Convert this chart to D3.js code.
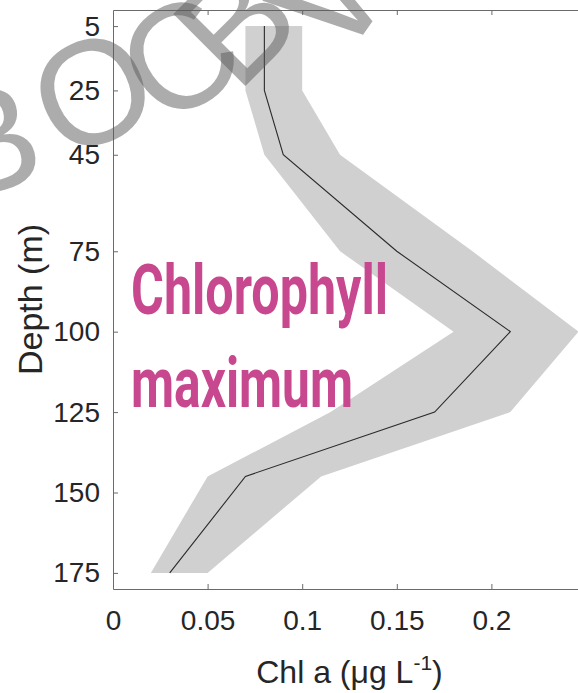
<!DOCTYPE html>
<html>
<head>
<meta charset="utf-8">
<script src="https://cdn.jsdelivr.net/npm/d3@7"></script>
<style>
  html, body { margin: 0; padding: 0; background: #fff; }
  svg { display: block; }
</style>
</head>
<body>
<svg id="chart" width="578" height="693"></svg>
<script>
// ---- data ----
const depths   = [5, 25, 45, 75, 100, 125, 145, 175];
const chlMean  = [0.08, 0.08, 0.09, 0.15, 0.21, 0.17, 0.07, 0.03];
const chlLower = [0.07, 0.07, 0.08, 0.12, 0.18, 0.115, 0.05, 0.02];
const chlUpper = [0.10, 0.10, 0.12, 0.19, 0.246, 0.21, 0.11, 0.05];
const yTicks = [5, 25, 45, 75, 100, 125, 150, 175];
const yTickLabels = ["5", "25", "45", "75", "100", "125", "150", "175"];
const xTicks = [0, 0.05, 0.1, 0.15, 0.2];
const xTickLabels = ["0", "0.05", "0.1", "0.15", "0.2"];
const xTopTicks = [0.05, 0.1, 0.15, 0.2];
const watermarkChars = ["B", "O", "C", "B", "W"];

const rows = depths.map((d, i) => ({ depth: d, mean: chlMean[i], lo: chlLower[i], hi: chlUpper[i] }));

const svg = d3.select("#chart");
const L = 113, R = 586, T = 10, B = 589;
const x = d3.scaleLinear().domain([0, 0.25]).range([L, R]);
const y = d3.scaleLinear().domain([0, 180]).range([T, B]);

const axisColor = "#6a6a6a";
const labelFont = "'Liberation Sans', Arial, Helvetica, sans-serif";

// band
svg.append("path")
  .datum(rows)
  .attr("fill", "#d0d0d0")
  .attr("d", d3.area().y(d => y(d.depth)).x0(d => x(d.lo)).x1(d => x(d.hi)));

// mean line
svg.append("path")
  .datum(rows)
  .attr("fill", "none")
  .attr("stroke", "#2a2a2a")
  .attr("stroke-width", 1.1)
  .attr("d", d3.line().y(d => y(d.depth)).x(d => x(d.mean)));

// annotation
const ann = svg.append("g")
  .attr("fill", "#c8488f")
  .attr("font-family", "Roboto, 'Open Sans', sans-serif")
  .attr("font-weight", 700)
  .attr("font-size", 70);
ann.append("text").attr("x", 131).attr("y", 314)
  .attr("textLength", 257).attr("lengthAdjust", "spacingAndGlyphs").text("Chlorophyll");
ann.append("text").attr("x", 131).attr("y", 407)
  .attr("textLength", 222).attr("lengthAdjust", "spacingAndGlyphs").text("maximum");

// axes
function styleAxis(g) {
  g.selectAll(".domain").attr("stroke", axisColor);
  g.selectAll(".tick line").attr("stroke", axisColor);
  g.selectAll(".tick text").attr("fill", "#262626").attr("font-family", labelFont).attr("font-size", 28);
}

const gLeft = svg.append("g").attr("transform", `translate(${L},0)`)
  .call(d3.axisLeft(y).tickValues(yTicks).tickFormat((d, i) => yTickLabels[i])
    .tickSizeInner(-5).tickSizeOuter(0).tickPadding(13));
styleAxis(gLeft);

const gBottom = svg.append("g").attr("transform", `translate(0,${B})`)
  .call(d3.axisBottom(x).tickValues(xTicks).tickFormat((d, i) => xTickLabels[i])
    .tickSizeInner(-5).tickSizeOuter(0).tickPadding(21));
styleAxis(gBottom);

const gTop = svg.append("g").attr("transform", `translate(0,${T})`)
  .call(d3.axisTop(x).tickValues(xTopTicks).tickFormat("")
    .tickSizeInner(-5).tickSizeOuter(0));
styleAxis(gTop);

const gRight = svg.append("g").attr("transform", `translate(${R},0)`)
  .call(d3.axisRight(y).tickValues(yTicks).tickFormat("")
    .tickSizeInner(-5).tickSizeOuter(0));
styleAxis(gRight);

// axis titles
const xt = svg.append("text")
  .attr("x", (L + R) / 2).attr("y", 683)
  .attr("text-anchor", "middle")
  .attr("font-family", labelFont).attr("font-size", 32).attr("fill", "#262626");
xt.append("tspan").text("Chl a (μg L");
xt.append("tspan").attr("font-size", 21).attr("dy", -13).text("-1");
xt.append("tspan").attr("dy", 13).text(")");

svg.append("text")
  .attr("transform", `translate(42,${(T + B) / 2}) rotate(-90)`)
  .attr("text-anchor", "middle")
  .attr("font-family", labelFont).attr("font-size", 34).attr("fill", "#262626")
  .text("Depth (m)");

// watermark
const wmPos = [
  { cx: -12, cy: 139, rot: -15 },
  { cx: 92, cy: 90, rot: -25 },
  { cx: 178, cy: 56, rot: -35 },
  { cx: 234, cy: 22, rot: -45 },
  { cx: 342, cy: -28, rot: -55 }
];
svg.append("g")
  .attr("font-family", labelFont)
  .attr("font-size", 148)
  .attr("fill", "#5a5a5a")
  .attr("fill-opacity", 0.5)
  .selectAll("text")
  .data(watermarkChars)
  .join("text")
  .attr("text-anchor", "middle")
  .attr("dy", "0.36em")
  .attr("transform", (d, i) => `translate(${wmPos[i].cx},${wmPos[i].cy}) rotate(${wmPos[i].rot})`)
  .text(d => d);
</script>
</body>
</html>
